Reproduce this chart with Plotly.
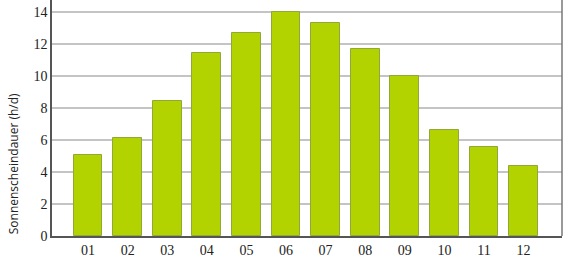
import plotly.graph_objects as go

months = ["01", "02", "03", "04", "05", "06", "07", "08", "09", "10", "11", "12"]
sunshine = [5.06, 6.14, 8.44, 11.44, 12.69, 13.98, 13.31, 11.69, 10.02, 6.6, 5.54, 4.35]
y_ticks = [0, 2, 4, 6, 8, 10, 12, 14]
y_title = "Sonnenscheindauer (h/d)"

fig = go.Figure()
fig.add_trace(go.Bar(
    x=list(range(len(months))), y=sunshine,
    width=0.73,
    marker=dict(color="#b2d300", line=dict(color="#8fa83a", width=1)),
))
fig.update_layout(
    width=579, height=258,
    margin=dict(l=52, r=17, t=0, b=22),
    plot_bgcolor="white", paper_bgcolor="white",
    showlegend=False,
    bargap=0,
    font=dict(family="Liberation Serif", size=14, color="#222"),
)
fig.update_xaxes(
    range=[-0.91, 11.97],
    tickvals=list(range(len(months))), ticktext=months,
    showline=True, linecolor="#555", linewidth=1.5,
    showgrid=False, ticks="", zeroline=False,
)
fig.update_yaxes(
    range=[0, 14.75],
    tickvals=y_ticks,
    showline=True, linecolor="#555", linewidth=1.5,
    showgrid=True, gridcolor="#c4c4c4", gridwidth=1.5,
    ticks="", zeroline=False,
)
fig.add_annotation(
    text=y_title, textangle=-90, showarrow=False,
    xref="paper", yref="paper", x=-0.075, y=0.0, xanchor="center", yanchor="bottom",
    font=dict(family="Open Sans", size=12, color="#222"),
)
fig.add_shape(type="line", xref="paper", yref="paper", x0=1, x1=1, y0=0, y1=1,
              line=dict(color="#777", width=1.5))
fig.write_html("out.html")
